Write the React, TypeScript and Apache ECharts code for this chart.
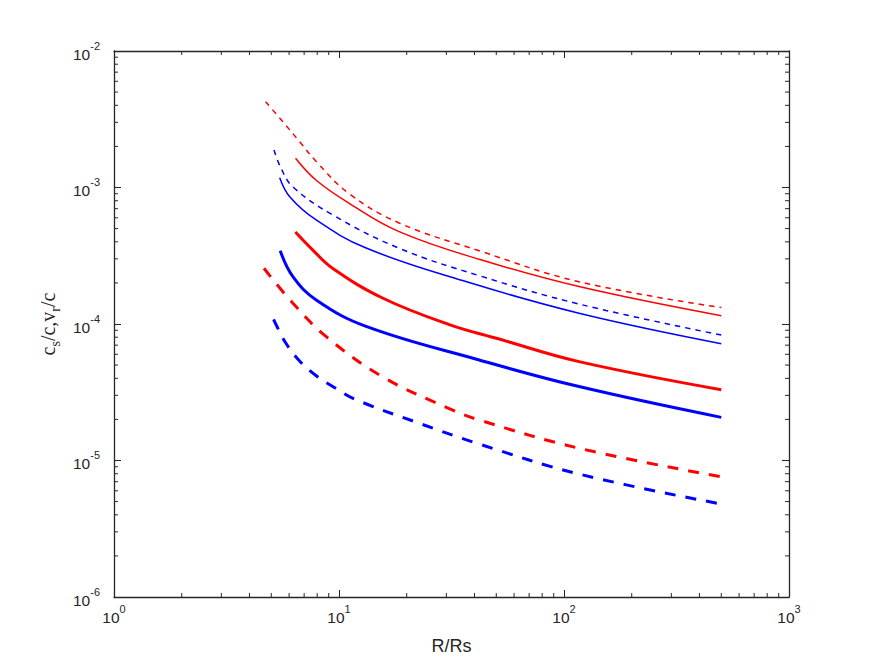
import React, { useEffect, useRef } from "react";
import * as echarts from "echarts";

// R/Rs values and c_s/c, v_r/c values
const redDotR = [4.72, 5.63, 6.68, 7.92, 11.1, 18.5, 42, 116.6, 500];
const redDotV = [4.25e-3, 3.03e-3, 2.17e-3, 1.55e-3, 9.0e-4, 5.5e-4, 3.44e-4, 2.04e-4, 1.32e-4];

const redThinR = [6.41, 7.92, 11.1, 18.5, 42, 116.6, 500];
const redThinV = [1.64e-3, 1.13e-3, 7.66e-4, 4.75e-4, 2.98e-4, 1.88e-4, 1.15e-4];

const blueDotR = [5.14, 5.53, 6.24, 9.39, 18.5, 42, 116.6, 500];
const blueDotV = [1.88e-3, 1.38e-3, 1.01e-3, 6.29e-4, 3.59e-4, 2.26e-4, 1.4e-4, 8.3e-5];

const blueThinR = [5.45, 6.04, 7.92, 13.2, 35.4, 116.6, 500];
const blueThinV = [1.18e-3, 8.57e-4, 5.78e-4, 3.6e-4, 2.08e-4, 1.2e-4, 7.18e-5];

const redThickR = [6.4, 7.65, 9.39, 15.6, 30.9, 51.5, 116.6, 500];
const redThickV = [4.72e-4, 3.48e-4, 2.55e-4, 1.55e-4, 9.9e-5, 7.76e-5, 5.3e-5, 3.3e-5];

const blueThickR = [5.48, 6.24, 7.92, 13.2, 42, 116.6, 500];
const blueThickV = [3.44e-4, 2.22e-4, 1.5e-4, 9.6e-5, 5.45e-5, 3.48e-5, 2.07e-5];

const redDashR = [4.64, 6.24, 8.78, 15.6, 30.9, 42, 116.6, 500];
const redDashV = [2.56e-4, 1.42e-4, 8.07e-5, 4.11e-5, 2.4e-5, 1.98e-5, 1.23e-5, 7.6e-6];

const blueDashR = [5.12, 5.24, 5.81, 6.68, 7.95, 9.58, 11.71, 22, 42, 116.6, 500];
const blueDashV = [1.08e-4, 9.95e-5, 7.22e-5, 5.36e-5, 4.16e-5, 3.41e-5, 2.82e-5, 1.91e-5, 1.32e-5, 7.96e-6, 4.8e-6];

const xMin = 1;
const xMax = 1000;
const yMin = 1e-6;
const yMax = 1e-2;

const AX = "#262626";
const SANS = "Liberation Sans, Arial, Helvetica, sans-serif";
const SERIF = "Liberation Serif, Times New Roman, serif";

function pairs(r: number[], v: number[]) {
  return r.map((x, i) => [x, v[i]]);
}

function minorTicks(lo: number, hi: number) {
  const out: number[] = [];
  for (let d = lo; d < hi * 0.999; d *= 10) {
    for (let k = 2; k <= 9; k++) out.push(k * d);
  }
  return out;
}

const fmt = (v: number) => `{b|10}{s|${Math.round(Math.log10(v))}}`;
const richTick = {
  b: { fontSize: 15.5, fontFamily: SANS, color: AX, lineHeight: 22, verticalAlign: "bottom" },
  s: { fontSize: 11, fontFamily: SANS, color: AX, lineHeight: 11, verticalAlign: "top" },
};

export default function App() {
  const ref = useRef<HTMLDivElement>(null);
  useEffect(() => {
    document.body.style.margin = "0";
    const chart = echarts.init(ref.current!, undefined, { renderer: "svg" });

    const line = (name: string, r: number[], v: number[], color: string, width: number, dash: any) => ({
      name,
      type: "line",
      data: pairs(r, v),
      showSymbol: false,
      symbol: "none",
      smooth: 0.4,
      lineStyle: { color, width, type: dash, cap: "butt" },
      xAxisIndex: 0,
      yAxisIndex: 0,
      z: 3,
    });

    const xAxisBase = {
      type: "log",
      logBase: 10,
      min: xMin,
      max: xMax,
      axisLine: { show: true, lineStyle: { color: AX, width: 1.3 } },
      axisTick: { show: true, inside: true, length: 7, lineStyle: { color: AX, width: 1 } },
      splitLine: { show: false },
      minorTick: { show: false },
    };
    const yAxisBase = {
      type: "log",
      logBase: 10,
      min: yMin,
      max: yMax,
      axisLine: { show: true, lineStyle: { color: AX, width: 1.3 } },
      axisTick: { show: true, inside: true, length: 7, lineStyle: { color: AX, width: 1 } },
      splitLine: { show: false },
      minorTick: { show: false },
    };

    const xMinor = minorTicks(xMin, xMax);
    const yMinor = minorTicks(yMin, yMax);

    chart.setOption({
      animation: false,
      backgroundColor: "#ffffff",
      grid: { left: 114, right: 83, top: 51, bottom: 74, containLabel: false },
      xAxis: [
        {
          ...xAxisBase,
          position: "bottom",
          axisLabel: { show: true, margin: 6, formatter: fmt, rich: richTick },
          name: "R/Rs",
          nameLocation: "middle",
          nameGap: 40,
          nameTextStyle: { fontSize: 18, fontFamily: SANS, color: AX },
        },
        { ...xAxisBase, position: "top", axisLabel: { show: false } },
      ],
      yAxis: [
        {
          ...yAxisBase,
          position: "left",
          axisLabel: { show: true, margin: 14, formatter: fmt, rich: richTick },
          name: "{m|c}{u|s}{m|/c,v}{u|r}{m|/c}",
          nameLocation: "middle",
          nameRotate: 90,
          nameGap: 38,
          nameTextStyle: {
            rich: {
              m: { fontSize: 20, fontFamily: SERIF, color: AX, lineHeight: 24, verticalAlign: "top" },
              u: { fontSize: 14, fontFamily: SERIF, color: AX, lineHeight: 16, verticalAlign: "bottom", padding: [8, 0, 0, 0] },
            },
          },
        },
        { ...yAxisBase, position: "right", axisLabel: { show: false } },
      ],
      series: [
        line("redDot", redDotR, redDotV, "#ff0000", 1.5, [5.5, 5]),
        line("redThin", redThinR, redThinV, "#ff0000", 1.5, "solid"),
        line("blueDot", blueDotR, blueDotV, "#0000ff", 1.5, [5.5, 5]),
        line("blueThin", blueThinR, blueThinV, "#0000ff", 1.5, "solid"),
        line("redThick", redThickR, redThickV, "#ff0000", 3, "solid"),
        line("blueThick", blueThickR, blueThickV, "#0000ff", 3, "solid"),
        line("redDash", redDashR, redDashV, "#ff0000", 3, [11, 10]),
        line("blueDash", blueDashR, blueDashV, "#0000ff", 3, [11, 10]),
        {
          type: "custom",
          name: "xMinor",
          silent: true,
          clip: false,
          z: 5,
          data: xMinor.map((v) => [v, 1e-4]),
          renderItem: (params: any, api: any) => {
            const cs = params.coordSys;
            const p = api.coord([api.value(0), 1e-4]);
            const st = { stroke: AX, lineWidth: 1 };
            return {
              type: "group",
              children: [
                { type: "line", shape: { x1: p[0], y1: cs.y + cs.height, x2: p[0], y2: cs.y + cs.height - 4 }, style: st },
                { type: "line", shape: { x1: p[0], y1: cs.y, x2: p[0], y2: cs.y + 4 }, style: st },
              ],
            };
          },
        },
        {
          type: "custom",
          name: "yMinor",
          silent: true,
          clip: false,
          z: 5,
          data: yMinor.map((v) => [10, v]),
          renderItem: (params: any, api: any) => {
            const cs = params.coordSys;
            const p = api.coord([10, api.value(1)]);
            const st = { stroke: AX, lineWidth: 1 };
            return {
              type: "group",
              children: [
                { type: "line", shape: { x1: cs.x, y1: p[1], x2: cs.x + 4, y2: p[1] }, style: st },
                { type: "line", shape: { x1: cs.x + cs.width, y1: p[1], x2: cs.x + cs.width - 4, y2: p[1] }, style: st },
              ],
            };
          },
        },
      ],
    });
    return () => chart.dispose();
  }, []);
  return <div ref={ref} style={{ position: "fixed", left: 0, top: 0, width: 872, height: 671 }} />;
}
